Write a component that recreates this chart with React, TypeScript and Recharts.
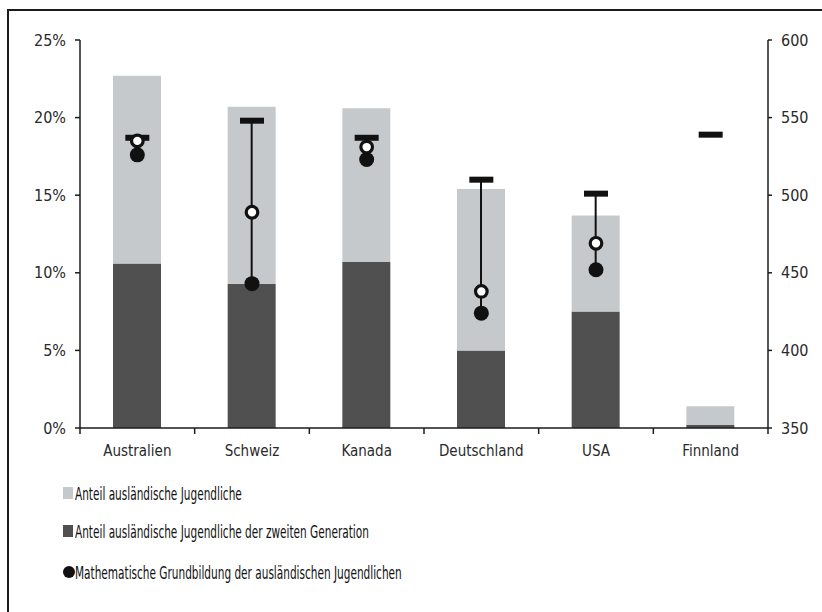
import React from 'react';
import { ComposedChart, Bar, Line, XAxis, YAxis } from 'recharts';

const countries = ['Australien', 'Schweiz', 'Kanada', 'Deutschland', 'USA', 'Finnland'];
const totalShare = [22.7, 20.7, 20.6, 15.4, 13.7, 1.4];
const secondGenShare = [10.6, 9.3, 10.7, 5.0, 7.5, 0.2];
const foreignScore: (number | null)[] = [526, 443, 523, 424, 452, null];
const secondGenScore: (number | null)[] = [535, 489, 531, 438, 469, null];
const nativeScore = [537, 548, 537, 510, 501, 539];
const shareTicks = [0, 5, 10, 15, 20, 25];
const scoreTicks = [350, 400, 450, 500, 550, 600];
const legendLabels = [
  'Anteil ausländische Jugendliche',
  'Anteil ausländische Jugendliche der zweiten Generation',
  'Mathematische Grundbildung der ausländischen Jugendlichen',
];

const LIGHT = '#c6c9cb';
const DARK = '#505050';
const INK = '#1c1c1c';
const FONT = "'Liberation Sans Narrow','DejaVu Sans Condensed','Roboto Condensed','Liberation Sans',sans-serif";

const data = countries.map((c, i) => ({
  country: c,
  second: secondGenShare[i],
  rest: +(totalShare[i] - secondGenShare[i]).toFixed(2),
  foreign: foreignScore[i],
  secondScore: secondGenScore[i],
  native: nativeScore[i],
  range: foreignScore[i] == null ? null : [foreignScore[i], nativeScore[i]],
}));

const TICK_SIZE = 6;
const TICK_MARGIN = 11;

const XTick = (props: any) => {
  const { x, y, payload, index, visibleTicksCount } = props;
  const off = payload && typeof payload.offset === 'number' ? payload.offset : 0;
  const y0 = y - TICK_SIZE - TICK_MARGIN;
  return (
    <g>
      <line x1={x - off} x2={x - off} y1={y0} y2={y0 + TICK_SIZE} stroke={INK} strokeWidth={1.5} />
      {index === visibleTicksCount - 1 ? (
        <line x1={x + off} x2={x + off} y1={y0} y2={y0 + TICK_SIZE} stroke={INK} strokeWidth={1.5} />
      ) : null}
      <text x={x} y={y} dy="0.71em" textAnchor="middle" fill="#2a2a2a" fontSize={15} fontFamily={FONT}>
        {payload.value}
      </text>
    </g>
  );
};

const capDot = (p: any) => {
  const { cx, cy, value, index } = p;
  if (value == null || cy == null || isNaN(cy)) return <g key={`c${index}`} />;
  return <rect key={`c${index}`} x={cx - 12} y={cy - 3} width={24} height={6} fill="#111" />;
};
const filledDot = (p: any) => {
  const { cx, cy, value, index } = p;
  if (value == null || cy == null || isNaN(cy)) return <g key={`f${index}`} />;
  return <circle key={`f${index}`} cx={cx} cy={cy} r={7.5} fill="#111" />;
};
const openDot = (p: any) => {
  const { cx, cy, value, index } = p;
  if (value == null || cy == null || isNaN(cy)) return <g key={`o${index}`} />;
  return <circle key={`o${index}`} cx={cx} cy={cy} r={5.8} fill="#fff" stroke="#111" strokeWidth={3.2} />;
};

export default function App() {
  return (
    <div style={{ position: 'absolute', left: 0, top: 0, width: 822, height: 612, overflow: 'hidden', background: '#fff' }}>
      <div
        style={{
          position: 'absolute', left: 7, top: 9, width: 900, height: 700,
          borderLeft: `2px solid ${INK}`, borderTop: `2px solid ${INK}`,
        }}
      />
      <div style={{ position: 'absolute', left: 0, top: 0 }}>
        <ComposedChart width={822} height={612} data={data} margin={{ top: 40, right: 4, bottom: 154, left: 20 }}>
          <XAxis
            dataKey="country"
            height={30}
            axisLine={{ stroke: INK, strokeWidth: 1.5 }}
            tickLine={false}
            tickSize={TICK_SIZE}
            tickMargin={TICK_MARGIN}
            tick={<XTick />}
            interval={0}
          />
          <XAxis xAxisId="b" dataKey="country" hide />
          <YAxis
            yAxisId="left"
            width={60}
            domain={[0, 25]}
            ticks={shareTicks}
            tickFormatter={(v: number) => `${v}%`}
            axisLine={{ stroke: INK, strokeWidth: 1.5 }}
            tickLine={{ stroke: INK, strokeWidth: 1.5 }}
            tickSize={5}
            tickMargin={9}
            tick={{ fill: '#2a2a2a', fontSize: 16, fontFamily: FONT }}
            interval={0}
          />
          <YAxis
            yAxisId="right"
            orientation="right"
            width={50}
            domain={[350, 600]}
            ticks={scoreTicks}
            axisLine={{ stroke: INK, strokeWidth: 1.5 }}
            tickLine={{ stroke: INK, strokeWidth: 1.5 }}
            tickSize={4}
            tickMargin={9}
            tick={{ fill: '#2a2a2a', fontSize: 16, fontFamily: FONT }}
            interval={0}
          />
          <Bar yAxisId="left" dataKey="second" stackId="s" fill={DARK} barSize={48} isAnimationActive={false} />
          <Bar yAxisId="left" dataKey="rest" stackId="s" fill={LIGHT} barSize={48} isAnimationActive={false} />
          <Bar xAxisId="b" yAxisId="right" dataKey="range" fill="#111" barSize={2} isAnimationActive={false} />
          <Line yAxisId="right" dataKey="native" stroke="none" dot={capDot} activeDot={false} isAnimationActive={false} />
          <Line yAxisId="right" dataKey="foreign" stroke="none" dot={filledDot} activeDot={false} isAnimationActive={false} />
          <Line yAxisId="right" dataKey="secondScore" stroke="none" dot={openDot} activeDot={false} isAnimationActive={false} />
        </ComposedChart>
      </div>
      {legendLabels.map((label, i) => {
        const top = [482, 520, 561][i];
        return (
          <div
            key={label}
            style={{
              position: 'absolute', left: 63, top, height: 22, display: 'flex', alignItems: 'center',
              fontFamily: FONT, fontSize: 18, color: '#111', whiteSpace: 'nowrap',
            }}
          >
            {i < 2 ? (
              <span style={{ display: 'inline-block', width: 10, height: 12, background: i === 0 ? LIGHT : DARK, marginRight: 2, flex: 'none' }} />
            ) : (
              <span style={{ display: 'inline-block', width: 12, height: 12, borderRadius: 6, background: '#111', flex: 'none' }} />
            )}
            <span style={{ display: 'inline-block', transform: 'scaleX(0.65)', transformOrigin: 'left center' }}>{label}</span>
          </div>
        );
      })}
    </div>
  );
}
